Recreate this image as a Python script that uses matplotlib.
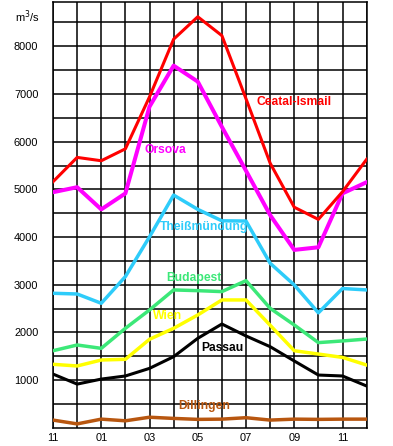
import numpy as np
import matplotlib
matplotlib.use('Agg')
import matplotlib.pyplot as plt

plt.rcParams['font.family'] = ['Liberation Sans', 'DejaVu Sans']

# months from November to December of the next year
months = np.arange(14)
month_labels = ['11', '', '01', '', '03', '', '05', '', '07', '', '09', '', '11', '']

ceatal = [5160, 5670, 5600, 5850, 6940, 8150, 8620, 8225, 6900, 5550, 4625, 4370, 4950, 5630]
orsova = [4940, 5045, 4580, 4915, 6735, 7595, 7260, 6310, 5390, 4460, 3730, 3785, 4915, 5150]
theiss = [2820, 2805, 2610, 3170, 4005, 4880, 4580, 4340, 4335, 3450, 2995, 2410, 2920, 2890]
budapest = [1615, 1735, 1665, 2085, 2470, 2890, 2875, 2855, 3085, 2505, 2155, 1785, 1820, 1860]
wien = [1330, 1295, 1420, 1435, 1855, 2085, 2365, 2680, 2680, 2150, 1615, 1545, 1475, 1315]
passau = [1125, 915, 1020, 1085, 1245, 1490, 1875, 2175, 1925, 1700, 1400, 1105, 1085, 875]
dillingen = [160, 80, 180, 145, 220, 195, 175, 180, 210, 160, 180, 175, 180, 180]

series = [
    ('Dillingen', dillingen, '#B8560F', 2.5, (5.19, 455)),
    ('Passau', passau, '#000000', 2.2, (6.16, 1678)),
    ('Wien', wien, '#FFFF00', 2.5, (4.14, 2343)),
    ('Budapest', budapest, '#3CE878', 2.5, (4.71, 3147)),
    ('Theißmündung', theiss, '#2ECCFA', 2.5, (4.45, 4200)),
    ('Orsova', orsova, '#FF00FF', 2.9, (3.80, 5830)),
    ('Ceatal-Ismail', ceatal, '#FF0000', 2.2, (8.44, 6830)),
]


def main():
    fig = plt.figure(figsize=(3.93, 4.46), dpi=100)
    ax = fig.add_axes([0.1349, 0.041, 0.798, 0.9556])

    for name, vals, color, lw, pos in series:
        ax.plot(months, vals, color=color, linewidth=lw, zorder=3)
        ax.text(pos[0], pos[1], name, color=color, fontsize=8.7,
                fontweight='bold', ha='left', va='center', zorder=4)

    ax.set_xlim(0, 13)
    ax.set_ylim(0, 8940)
    ax.set_xticks(months)
    ax.set_xticklabels(month_labels)
    ax.set_yticks(np.arange(500, 9000, 500), minor=False)
    ax.set_yticklabels([str(v) if v % 1000 == 0 else '' for v in range(500, 9000, 500)])
    ax.tick_params(length=0, labelsize=7.9, pad=4)
    ax.tick_params(axis='y', pad=10.5)
    ax.grid(True, color='black', linewidth=1.1)
    ax.set_axisbelow(True)
    for sp in ax.spines.values():
        sp.set_color('black')
        sp.set_linewidth(1.1)

    fig.text(15 / 393, 1 - 17 / 446, 'm$^3$/s', fontsize=7.9, ha='left', va='center')

    fig.savefig('out.png', dpi=100)


if __name__ == '__main__':
    main()
